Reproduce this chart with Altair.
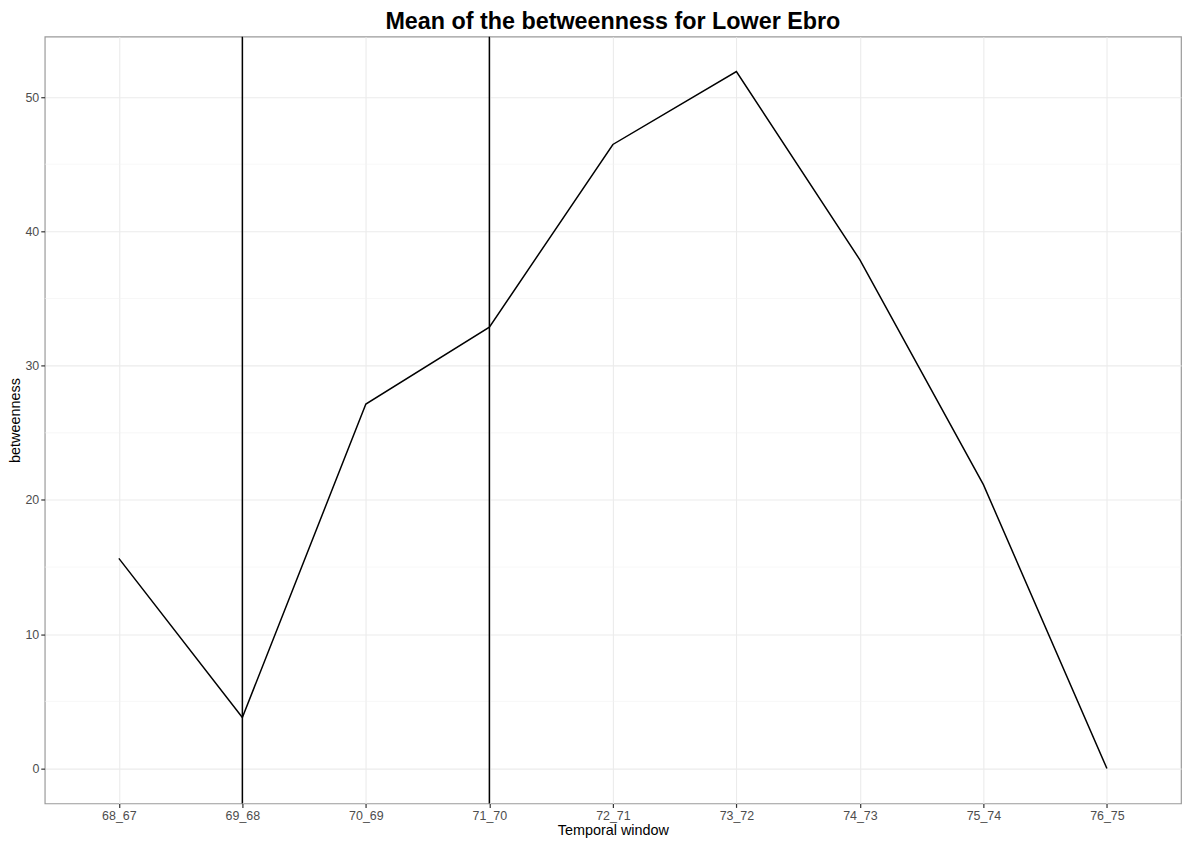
import altair as alt
import pandas as pd

windows = ["68_67", "69_68", "70_69", "71_70", "72_71", "73_72", "74_73", "75_74", "76_75"]
betweenness = [15.65, 3.80, 27.14, 32.87, 46.47, 51.90, 37.88, 21.14, 0.0]
vlines = ["69_68", "71_70"]
minor_breaks = [5, 15, 25, 35, 45]
major_breaks = [0, 10, 20, 30, 40, 50]

df = pd.DataFrame({"window": windows, "betweenness": betweenness})
df_v = pd.DataFrame({"window": vlines})
df_minor = pd.DataFrame({"betweenness": minor_breaks})

FONT = "Liberation Sans"

xscale = alt.Scale(type="point", padding=0.6, domain=windows)
yscale = alt.Scale(domain=[-2.6, 54.5], nice=False, zero=False)
yaxis = alt.Axis(title="betweenness", values=major_breaks, grid=True)
xaxis = alt.Axis(title="Temporal window", labelAngle=0, grid=True, values=windows)

minor = alt.Chart(df_minor).mark_rule(color="#F2F2F2", strokeWidth=0.6).encode(
    y=alt.Y("betweenness:Q", scale=yscale, axis=yaxis)
)

line = alt.Chart(df).mark_line(color="black", strokeWidth=1.5).encode(
    x=alt.X("window:N", scale=xscale, sort=windows, axis=xaxis),
    y=alt.Y("betweenness:Q", scale=yscale, axis=yaxis),
)

vr = alt.Chart(df_v).mark_rule(color="black", strokeWidth=1.5).encode(
    x=alt.X("window:N", scale=xscale, sort=windows, axis=xaxis)
)

chart = alt.layer(minor, line, vr).properties(
    width=1144,
    height=772,
    autosize=alt.AutoSizeParams(type="none"),
    padding={"left": 37, "top": 26, "right": 3, "bottom": 36},
    title=alt.Title("Mean of the betweenness for Lower Ebro", fontSize=23.5,
                    font=FONT, fontWeight="bold", color="black",
                    anchor="middle", offset=2),
).configure_view(
    stroke="#9A9A9A", strokeWidth=1.2
).configure_axis(
    labelFont=FONT, titleFont=FONT, labelFontSize=12.5, titleFontSize=14.5,
    labelColor="#4D4D4D", titleColor="black", titleFontWeight="normal",
    tickColor="#333333", tickSize=4, tickWidth=1.2, domain=False,
    gridColor="#EBEBEB", gridWidth=1.1, labelPadding=2,
).configure_axisX(
    titlePadding=2
).configure_axisY(
    titlePadding=3
)

chart.save("out.html", embed_options={"renderer": "svg", "actions": False})
